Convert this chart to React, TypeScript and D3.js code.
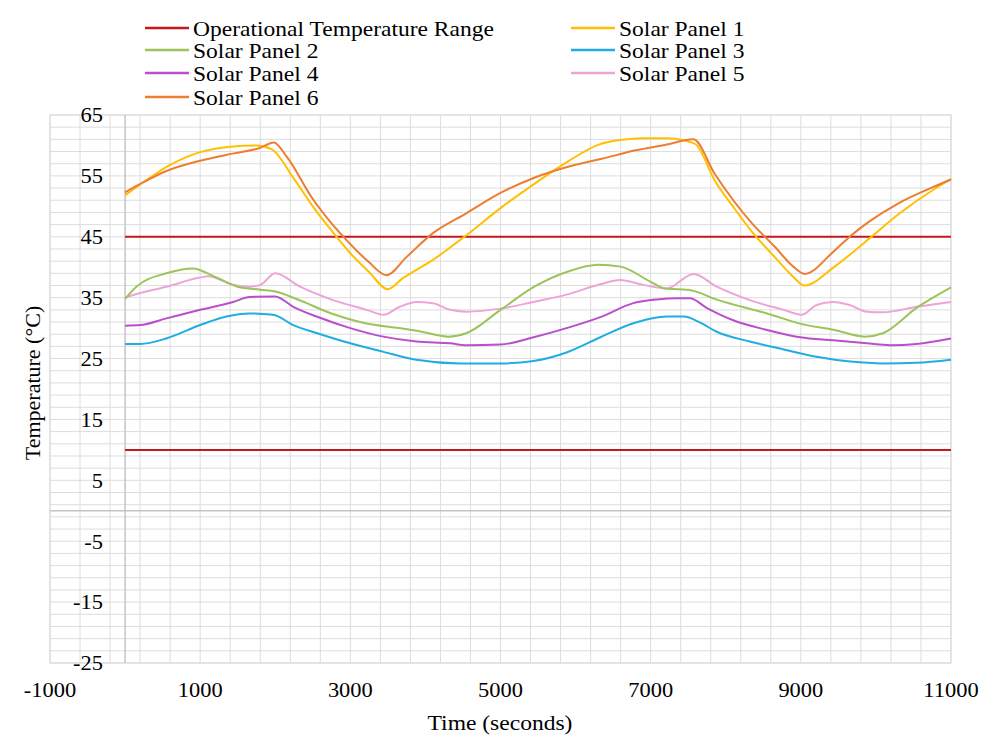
import React from "react";
import * as d3 from "d3";

const X_TICKS = [-1000, 1000, 3000, 5000, 7000, 9000, 11000];
const Y_TICKS = [-25, -15, -5, 5, 15, 25, 35, 45, 55, 65];

const OP_TIME = [0, 11000];
const OP_UPPER = [45, 45];
const OP_LOWER = [10, 10];

const P1_TIME = [0, 250, 600, 1000, 1400, 1750, 1950, 2250, 2500, 2750, 3000, 3250, 3500, 3700, 4100, 4550, 5000, 5450, 5900, 6300, 6600, 6900, 7200, 7450, 7600, 7850, 8100, 8350, 8650, 8900, 9050, 9450, 9900, 10300, 10750, 11000];
const P1_TEMP = [51.8, 54.0, 56.8, 58.9, 59.8, 60.0, 59.4, 54.5, 50.0, 46.0, 42.3, 39.2, 36.4, 38.2, 41.2, 45.3, 49.7, 53.7, 57.4, 60.1, 60.9, 61.2, 61.2, 60.8, 60.2, 54.3, 49.9, 45.8, 41.7, 38.4, 37.0, 40.1, 44.6, 48.7, 52.6, 54.5];

const P2_TIME = [0, 150, 550, 900, 1200, 1500, 1800, 2000, 2300, 2750, 3200, 3650, 3950, 4300, 4550, 5000, 5450, 5900, 6300, 6600, 7000, 7200, 7500, 7900, 8550, 9000, 9450, 9850, 10100, 10550, 11000];
const P2_TEMP = [34.8, 36.8, 39.0, 39.8, 38.4, 36.8, 36.3, 36.0, 34.7, 32.4, 30.8, 30.0, 29.4, 28.6, 29.2, 33.0, 36.8, 39.3, 40.4, 40.1, 37.6, 36.5, 36.3, 34.6, 32.4, 30.7, 29.7, 28.6, 29.2, 33.4, 36.7];

const P3_TIME = [0, 200, 550, 1000, 1350, 1660, 1970, 2240, 2550, 3000, 3440, 3880, 4460, 5000, 5440, 5880, 6330, 6770, 7210, 7440, 7660, 7880, 8320, 8770, 9210, 9660, 10100, 10540, 11000];
const P3_TEMP = [27.4, 27.4, 28.3, 30.5, 31.9, 32.4, 32.2, 30.5, 29.2, 27.5, 26.1, 24.8, 24.2, 24.2, 24.6, 26.0, 28.5, 30.8, 31.9, 31.9, 30.9, 29.4, 27.8, 26.5, 25.3, 24.5, 24.2, 24.3, 24.8];

const P4_TIME = [0, 200, 550, 1000, 1440, 1660, 2000, 2240, 2550, 3000, 3440, 3880, 4330, 4550, 5000, 5440, 5880, 6330, 6770, 7080, 7350, 7520, 7750, 8100, 8550, 8990, 9430, 9880, 10190, 10540, 11000];
const P4_TEMP = [30.4, 30.5, 31.6, 33.0, 34.3, 35.1, 35.2, 33.5, 31.9, 30.0, 28.6, 27.8, 27.5, 27.2, 27.3, 28.5, 30.0, 31.8, 34.1, 34.7, 34.9, 34.9, 33.3, 31.3, 29.7, 28.5, 28.0, 27.5, 27.2, 27.4, 28.3];

const P5_TIME = [0, 100, 550, 1000, 1100, 1450, 1650, 1800, 2000, 2330, 2770, 3220, 3440, 3660, 3880, 4100, 4330, 4550, 5000, 5440, 5880, 6330, 6590, 6900, 7210, 7570, 7880, 8320, 8770, 9010, 9210, 9430, 9650, 9880, 10100, 10540, 11000];
const P5_TEMP = [35.0, 35.4, 36.8, 38.3, 38.5, 37.1, 36.8, 37.1, 39.0, 36.8, 34.6, 33.0, 32.2, 33.5, 34.3, 34.1, 33.0, 32.7, 33.2, 34.3, 35.5, 37.2, 37.9, 37.1, 36.5, 38.9, 36.8, 34.6, 33.0, 32.2, 33.8, 34.3, 33.8, 32.7, 32.6, 33.5, 34.3];

const P6_TIME = [0, 250, 550, 1000, 1450, 1800, 1980, 2150, 2500, 2750, 3000, 3250, 3480, 3750, 4100, 4550, 5000, 5450, 5900, 6350, 6800, 7200, 7570, 7850, 8100, 8350, 8650, 8900, 9050, 9430, 9650, 9900, 10300, 10750, 11000];
const P6_TEMP = [52.3, 54.0, 55.8, 57.5, 58.7, 59.6, 60.5, 58.2, 51.2, 47.2, 43.8, 40.8, 38.7, 41.7, 45.6, 48.9, 52.2, 54.7, 56.5, 57.8, 59.2, 60.1, 61.0, 55.4, 51.0, 47.2, 43.4, 40.1, 38.9, 42.5, 45.0, 47.4, 50.5, 53.1, 54.4];

const SERIES_NAMES = ["Operational Temperature Range", "Solar Panel 1", "Solar Panel 2", "Solar Panel 3", "Solar Panel 4", "Solar Panel 5", "Solar Panel 6"];
const SERIES_COLORS = ["#C8161D", "#FFC000", "#9DC35B", "#1FADE2", "#B94FCB", "#EDA4D8", "#ED7D31"];

const W = 997;
const H = 740;
const FONT = "Liberation Serif, Times New Roman, DejaVu Serif, serif";
const SX = 1.07;
const TEXT_STYLE = { fontFamily: FONT };

const zip = (ts: number[], vs: number[]) => ts.map((t, i) => [t, vs[i]] as [number, number]);

export default function App() {
  const x = d3.scaleLinear().domain([-1000, 11000]).range([50, 951]);
  const y = d3.scaleLinear().domain([-25, 65]).range([663, 115]);

  const line = d3
    .line<[number, number]>()
    .x((d) => x(d[0]))
    .y((d) => y(d[1]))
    .curve(d3.curveMonotoneX);
  const straight = d3
    .line<[number, number]>()
    .x((d) => x(d[0]))
    .y((d) => y(d[1]));

  const vGrid = d3.range(-1000, 11001, 400);
  const hGrid = d3.range(-25, 65.1, 2);

  const series: { d: [number, number][]; color: string }[] = [
    { d: zip(P5_TIME, P5_TEMP), color: SERIES_COLORS[5] },
    { d: zip(P2_TIME, P2_TEMP), color: SERIES_COLORS[2] },
    { d: zip(P4_TIME, P4_TEMP), color: SERIES_COLORS[4] },
    { d: zip(P3_TIME, P3_TEMP), color: SERIES_COLORS[3] },
    { d: zip(P1_TIME, P1_TEMP), color: SERIES_COLORS[1] },
    { d: zip(P6_TIME, P6_TEMP), color: SERIES_COLORS[6] },
  ];

  const legendPos = [
    [145, 28], [571, 28],
    [145, 50], [571, 50],
    [145, 73], [571, 73],
    [145, 97],
  ];

  const [x0, x1] = x.range();
  const [y0, y1] = y.range();

  return (
    <svg width={W} height={H} style={{ position: "absolute", left: 0, top: 0, background: "#fff", fontFamily: FONT }}>
      <rect x={0} y={0} width={W} height={H} fill="#fff" />
      {/* grid */}
      {hGrid.map((v) => (
        <line key={"h" + v} x1={x0} x2={x1} y1={y(v)} y2={y(v)} stroke="#DDDDDD" strokeWidth={1} />
      ))}
      {vGrid.map((v) => (
        <line key={"v" + v} x1={x(v)} x2={x(v)} y1={y1} y2={y0} stroke="#DDDDDD" strokeWidth={1} />
      ))}
      <rect x={x0} y={y1} width={x1 - x0} height={y0 - y1} fill="none" stroke="#D9D9D9" strokeWidth={1} />
      {/* axes at zero */}
      <line x1={x(0)} x2={x(0)} y1={y1} y2={y0} stroke="#C4C4C4" strokeWidth={1.5} />
      <line x1={x0} x2={x1} y1={y(0)} y2={y(0)} stroke="#C4C4C4" strokeWidth={1.5} />

      {/* operational range */}
      <path d={straight(zip(OP_TIME, OP_UPPER)) || ""} fill="none" stroke={SERIES_COLORS[0]} strokeWidth={2} />
      <path d={straight(zip(OP_TIME, OP_LOWER)) || ""} fill="none" stroke={SERIES_COLORS[0]} strokeWidth={2} />

      {series.map((s, i) => (
        <path key={i} d={line(s.d) || ""} fill="none" stroke={s.color} strokeWidth={2} strokeLinejoin="round" />
      ))}

      {/* y tick labels */}
      {Y_TICKS.map((v) => (
        <text key={"yt" + v} style={TEXT_STYLE} transform={`translate(103,${y(v)}) scale(${SX},1)`} dy="0.35em" textAnchor="end" fontSize={21} fill="#000">
          {v}
        </text>
      ))}
      {/* x tick labels */}
      {X_TICKS.map((v) => (
        <text key={"xt" + v} style={TEXT_STYLE} transform={`translate(${x(v)},690) scale(${SX},1)`} dy="0.35em" textAnchor="middle" fontSize={21} fill="#000">
          {v}
        </text>
      ))}
      <text style={TEXT_STYLE} transform={`translate(500,722) scale(${SX},1)`} dy="0.35em" textAnchor="middle" fontSize={22} fill="#000">
        Time (seconds)
      </text>
      <text style={TEXT_STYLE} transform={`translate(32,383) rotate(-90)`} dy="0.35em" textAnchor="middle" fontSize={22} fill="#000">
        Temperature (°C)
      </text>

      {/* legend */}
      {SERIES_NAMES.map((name, i) => {
        const [lx, ly] = legendPos[i];
        return (
          <g key={"lg" + i}>
            <line x1={lx} x2={lx + 44} y1={ly} y2={ly} stroke={SERIES_COLORS[i]} strokeWidth={2.5} />
            <text style={TEXT_STYLE} transform={`translate(${lx + 48},${ly}) scale(${SX},1)`} dy="0.35em" fontSize={22} fill="#000">
              {name}
            </text>
          </g>
        );
      })}
    </svg>
  );
}
